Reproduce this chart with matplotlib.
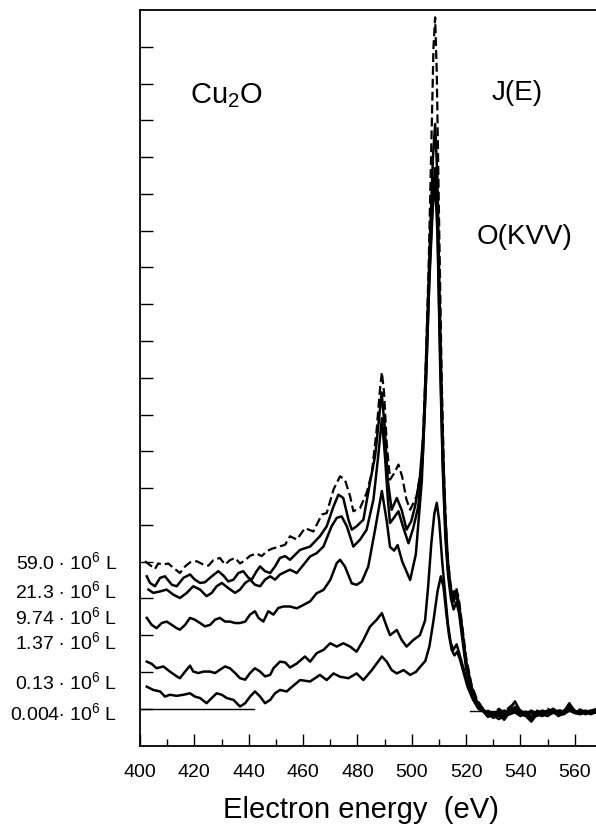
import matplotlib
matplotlib.use("Agg")
import matplotlib.pyplot as plt

plt.rcParams['font.family'] = ['Liberation Sans', 'DejaVu Sans']
plt.rcParams['mathtext.fontset'] = 'custom'
plt.rcParams['mathtext.rm'] = 'Liberation Sans'
plt.rcParams['mathtext.it'] = 'Liberation Sans'

# (energy eV, J(E) in tick units)
c59 = [(401.8,5.01),(404.3,4.87),(405.5,4.80),(406.7,4.95),(408.6,4.92),(410.4,4.95),(412.3,4.83),(414.7,4.69),
       (416.6,4.87),(418.4,4.98),(420.9,5.01),(423.3,4.92),(425.2,4.89),(427.0,5.04),(429.4,5.10),(431.3,4.92),
       (433.1,5.04),(435.0,5.10),(436.8,4.95),(438.7,5.04),(440.5,5.16),(442.9,5.22),(444.8,5.15),(446.6,5.28),
       (448.5,5.35),(450.9,5.40),(453.4,5.46),(455.2,5.69),(457.7,5.60),(460.7,5.91),(463.8,5.82),(466.9,6.28),
       (468.7,6.32),(471.2,6.96),(473.6,7.32),(475.4,7.23),(477.3,6.78),(478.5,6.37),(481.0,6.46),(483.4,6.87),
       (485.3,7.41),(487.1,8.60),(488.2,9.60),(489.0,10.15),(489.8,9.60),(490.8,8.20),(492.0,7.23),(493.5,7.40),
       (495.1,7.64),(496.5,7.30),(498.0,6.70),(499.4,6.41),(501.8,6.78),(503.7,7.60),(505.0,10.0),(506.2,13.0),
       (507.4,17.0),(508.0,19.0),(508.6,19.8),(509.2,18.3),(510.0,14.5),(511.0,10.0),(512.0,7.0),(513.0,5.3),
       (514.2,4.4),(515.3,4.1),(516.3,4.3),(517.3,4.0),(518.5,3.3),(520.0,2.4),(522.0,1.65),(524.0,1.25),(526.0,1.02)]
c21 = [(402.5,4.60),(403.7,4.42),(405.5,4.33),(407.4,4.56),(409.2,4.60),(411.7,4.37),(413.5,4.33),(416.0,4.56),
       (418.4,4.65),(420.2,4.51),(422.1,4.42),(423.9,4.44),(426.4,4.60),(428.8,4.74),(430.7,4.62),(432.5,4.46),
       (434.4,4.51),(436.2,4.69),(438.0,4.74),(439.9,4.56),(441.1,4.51),(442.9,4.74),(444.2,4.87),(446.0,4.74),
       (447.9,4.69),(449.7,4.87),(451.5,5.10),(453.4,5.15),(455.2,5.05),(458.9,5.32),(462.6,5.41),(466.2,5.69),
       (468.7,5.96),(471.2,6.50),(473.0,6.82),(474.8,6.73),(476.7,6.14),(477.9,5.87),(479.7,5.96),(482.2,6.14),
       (484.6,7.14),(486.5,7.87),(487.7,8.70),(488.9,9.60),(490.0,8.70),(491.2,7.20),(492.6,6.41),(494.5,6.73),
       (496.3,6.40),(498.1,5.87),(499.8,6.10),(501.2,6.50),(503.0,7.30),(504.3,8.50),(505.5,11.0),(506.8,14.0),
       (507.8,16.0),(508.6,16.9),(509.4,15.5),(510.3,12.0),(511.3,8.5),(512.3,6.3),(513.3,5.0),(514.3,4.3),
       (515.3,4.0),(516.3,4.2),(517.3,3.9),(518.5,3.2),(520.0,2.3),(522.0,1.6),(524.0,1.2),(526.0,1.0)]
c974 = [(403.1,4.24),(404.9,4.15),(407.4,4.19),(409.8,4.24),(412.3,4.10),(414.7,4.01),(417.2,4.15),(419.6,4.33),
        (422.1,4.24),(424.5,4.06),(426.4,4.15),(428.2,4.33),(430.1,4.42),(432.5,4.28),(435.0,4.15),(436.8,4.24),
        (438.7,4.42),(440.5,4.51),(442.3,4.37),(444.2,4.33),(446.0,4.51),(447.9,4.60),(449.7,4.51),(451.5,4.65),
        (454.0,4.74),(455.2,4.78),(457.7,4.69),(460.1,4.91),(462.6,5.14),(465.0,5.23),(467.5,5.41),(470.5,5.96),
        (472.4,6.19),(474.2,6.23),(476.1,5.96),(478.5,5.41),(481.0,5.60),(483.4,5.87),(485.9,6.69),(487.7,7.90),
        (489.0,8.90),(490.2,7.80),(491.2,6.70),(492.0,6.05),(493.5,6.20),(495.1,6.37),(497.0,5.90),(498.8,5.50),
        (500.5,5.90),(502.4,6.50),(504.0,7.80),(505.3,10.0),(506.6,13.0),(507.8,15.0),(508.6,15.7),(509.4,14.3),
        (510.3,11.2),(511.3,8.0),(512.3,6.0),(513.3,4.8),(514.3,4.2),(515.3,3.9),(516.3,4.1),(517.3,3.8),
        (518.5,3.1),(520.0,2.2),(522.0,1.5),(524.0,1.15),(526.0,0.98)]
c137 = [(402.5,3.47),(404.3,3.28),(406.1,3.19),(408.0,3.33),(409.8,3.37),(411.7,3.28),(413.5,3.19),(414.7,3.15),
        (416.6,3.28),(418.4,3.47),(420.2,3.42),(422.1,3.33),(423.9,3.24),(425.8,3.28),(427.6,3.42),(429.4,3.47),
        (431.3,3.37),(433.1,3.37),(435.0,3.33),(436.8,3.33),(438.7,3.37),(440.5,3.56),(442.3,3.65),(443.6,3.47),
        (445.4,3.37),(447.2,3.65),(449.1,3.56),(450.9,3.74),(452.8,3.78),(455.2,3.78),(457.7,3.73),(460.1,3.82),
        (462.6,3.92),(465.0,4.14),(467.5,4.23),(470.0,4.50),(472.4,4.96),(473.6,5.05),(475.4,4.87),(477.9,4.41),
        (479.7,4.37),(481.6,4.46),(484.0,4.87),(486.5,5.87),(489.0,6.92),(490.8,6.10),(492.0,5.40),(493.5,5.30),
        (494.8,5.45),(496.5,5.00),(499.4,4.50),(501.5,5.20),(503.7,7.20),(505.0,9.50),(506.4,12.5),(507.7,14.6),
        (508.7,15.3),(509.5,13.8),(510.4,10.5),(511.4,7.5),(512.4,5.6),(513.4,4.6),(514.4,4.0),(515.4,3.7),
        (516.4,3.9),(517.4,3.6),(518.6,2.9),(520.0,2.1),(522.0,1.45),(524.0,1.1),(526.0,0.95)]
c013 = [(402.5,2.28),(404.3,2.22),(406.1,2.10),(408.6,2.15),(411.0,2.01),(413.5,1.88),(414.7,1.83),(416.6,2.01),
        (418.4,2.17),(419.6,2.01),(421.5,1.97),(423.3,2.01),(425.8,2.01),(427.6,1.97),(429.4,2.06),(431.3,2.15),
        (433.1,2.10),(435.0,1.97),(436.8,1.83),(438.7,1.79),(440.5,1.97),(442.3,2.10),(444.2,2.01),(446.0,1.88),
        (447.9,1.92),(449.1,2.10),(451.5,2.28),(453.4,2.26),(455.2,2.12),(457.7,2.23),(460.7,2.42),(462.6,2.28),
        (465.0,2.51),(467.5,2.60),(470.0,2.78),(472.4,2.69),(474.8,2.78),(477.3,2.69),(479.7,2.55),(482.2,2.87),
        (484.6,3.23),(487.1,3.42),(489.0,3.60),(490.8,3.23),(492.0,3.00),(494.5,3.14),(496.3,2.87),(498.1,2.69),
        (500.6,2.87),(503.0,3.00),(504.9,3.40),(506.0,4.30),(507.2,5.50),(508.3,6.30),(509.2,6.60),(510.1,6.10),
        (511.2,5.00),(512.3,4.10),(513.3,3.30),(514.3,2.80),(515.3,2.60),(516.5,2.75),(517.5,2.50),(519.0,2.10),
        (520.5,1.70),(522.5,1.30),(524.5,1.05),(526.5,0.95)]
c0004 = [(402.5,1.60),(404.9,1.51),(407.4,1.47),(409.2,1.33),(411.0,1.38),(413.5,1.35),(416.0,1.38),(418.4,1.42),
         (420.2,1.33),(422.1,1.29),(424.5,1.15),(426.4,1.29),(428.2,1.42),(430.1,1.38),(431.9,1.29),(434.4,1.24),
         (436.8,1.06),(438.7,1.15),(440.5,1.33),(442.3,1.47),(444.2,1.33),(446.0,1.15),(447.9,1.24),(449.7,1.42),
         (451.5,1.51),(454.0,1.47),(455.2,1.55),(458.9,1.78),(462.6,1.74),(466.2,1.92),(468.7,1.78),(471.2,1.96),
         (473.6,1.87),(476.7,1.83),(479.7,1.96),(482.2,1.78),(485.3,2.05),(487.1,2.23),(489.0,2.42),(490.8,2.28),
         (492.6,2.05),(494.5,1.96),(497.0,2.05),(499.4,1.92),(501.5,2.00),(503.1,2.14),(505.0,2.30),(506.5,2.70),
         (508.0,3.40),(509.5,4.20),(510.7,4.60),(511.7,4.30),(512.7,3.60),(513.7,3.00),(514.7,2.60),(515.7,2.45),
         (516.7,2.55),(517.7,2.35),(519.0,2.00),(520.5,1.60),(522.5,1.25),(524.5,1.00),(526.5,0.92)]

# noisy flat tail above 528 eV
tail_e = [528, 530, 532, 534, 536, 538, 540, 542, 544, 546, 548, 550, 552, 554, 556, 558, 560, 562, 564, 566, 568, 570]
tail59 = [0.95, 0.85, 1.0, 0.9, 1.05, 1.15, 0.95, 0.9, 0.8, 0.95, 0.9, 1.0, 0.92, 0.98, 0.9, 1.1, 0.95, 0.98, 0.9, 0.95, 1.0, 0.92]
tail21 = [0.85, 0.9, 0.8, 0.95, 0.9, 1.0, 0.92, 0.85, 0.95, 0.85, 0.95, 0.9, 1.0, 0.9, 0.95, 1.05, 0.9, 0.95, 0.92, 0.9, 0.95, 0.9]
tail974 = [0.9, 0.78, 0.9, 0.75, 0.95, 1.05, 0.88, 0.92, 0.75, 0.9, 0.85, 0.92, 0.95, 0.85, 0.92, 1.15, 0.92, 0.9, 0.95, 0.88, 0.92, 0.95]
tail137 = [0.8, 0.85, 0.95, 0.85, 1.0, 1.2, 0.9, 0.85, 0.9, 0.8, 0.9, 0.95, 0.88, 0.95, 0.9, 1.0, 0.95, 0.88, 0.92, 0.95, 0.88, 0.9]
tail013 = [0.88, 0.75, 0.85, 0.7, 0.9, 0.95, 0.85, 0.8, 0.65, 0.85, 0.8, 0.88, 0.92, 0.8, 0.88, 1.05, 0.9, 0.92, 0.85, 0.92, 0.9, 0.88]
tail0004 = [0.78, 0.82, 0.72, 0.8, 0.85, 0.9, 0.8, 0.88, 0.72, 0.82, 0.85, 0.8, 0.9, 0.85, 0.85, 0.95, 0.88, 0.85, 0.9, 0.85, 0.92, 0.9]

labels = ["59.0 $\\cdot$ 10$^6$ L", "21.3 $\\cdot$ 10$^6$ L", "9.74 $\\cdot$ 10$^6$ L",
          "1.37 $\\cdot$ 10$^6$ L", "0.13 $\\cdot$ 10$^6$ L", "0.004$\\cdot$ 10$^6$ L"]
label_y = [562, 591, 617, 642, 682, 713]

fig = plt.figure(figsize=(5.96, 8.24), dpi=100)
ax = fig.add_axes([140/596, 1-745.5/824, 462/596, (745.5-10)/824])

curves = [(c59, tail59, '--'), (c21, tail21, '-'), (c974, tail974, '-'),
          (c137, tail137, '-'), (c013, tail013, '-'), (c0004, tail0004, '-')]
for pts, tail, ls in curves:
    e = [p[0] for p in pts] + tail_e
    j = [p[1] for p in pts] + tail
    if ls == '--':
        ax.plot(e, j, color='black', lw=1.6, ls='--', dashes=(4, 1.8))
    else:
        ax.plot(e, j, color='black', lw=1.8)

# reference base lines
ax.plot([400, 442], [1.0, 1.0], color='black', lw=1)
ax.plot([521.4, 570], [0.93, 0.93], color='black', lw=1)

ax.set_xlim(400, 570)
ax.set_ylim(0, 20)
ax.set_xticks(range(400, 561, 20))
ax.set_xticks(range(410, 570, 20), minor=True)
ax.set_yticks(range(1, 20))
ax.set_yticklabels([])
ax.tick_params(axis='x', which='major', direction='in', length=9, width=1, labelsize=14, pad=13)
ax.tick_params(axis='x', which='minor', direction='in', length=5, width=1)
ax.tick_params(axis='y', direction='in', length=9, width=1)
ax.spines['right'].set_visible(False)
for s in ['left', 'bottom', 'top']:
    ax.spines[s].set_linewidth(1.3)

fig.text(361/596, 1-810/824, "Electron energy  (eV)", ha='center', va='center', fontsize=21)
fig.text(190/596, 1-103/824, "Cu$_2$O", ha='left', va='baseline', fontsize=21)
fig.text(492/596, 1-100/824, "J(E)", ha='left', va='baseline', fontsize=20)
fig.text(477/596, 1-244/824, "O(KVV)", ha='left', va='baseline', fontsize=20)
for t, y in zip(labels, label_y):
    fig.text(117/596, 1-y/824, t, ha='right', va='center', fontsize=14)

fig.savefig("out.png", dpi=100)
